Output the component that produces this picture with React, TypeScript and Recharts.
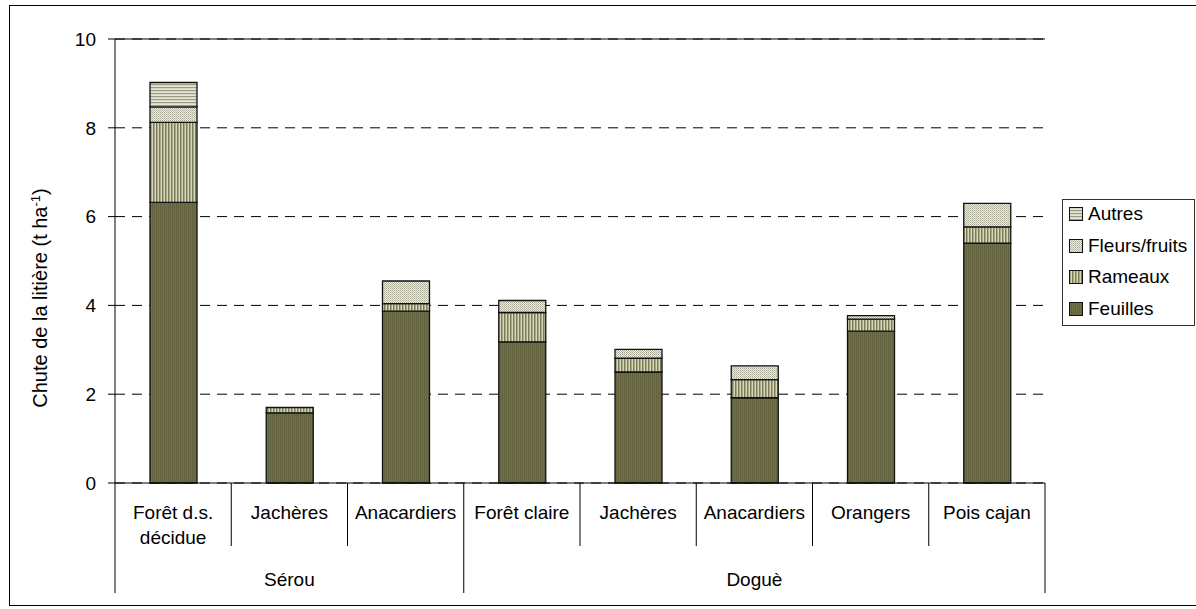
import { BarChart, Bar, XAxis, YAxis, CartesianGrid, ReferenceLine } from "recharts"

// categories (the "|" splits a label on two lines) and their site
const categories = ["Forêt d.s.|décidue", "Jachères", "Anacardiers", "Forêt claire", "Jachères", "Anacardiers", "Orangers", "Pois cajan"]
const sites = ["Sérou", "Sérou", "Sérou", "Doguè", "Doguè", "Doguè", "Doguè", "Doguè"]

// litter fall, t/ha
const feuilles = [6.32, 1.58, 3.87, 3.18, 2.5, 1.92, 3.42, 5.4]
const rameaux = [1.8, 0.12, 0.17, 0.66, 0.31, 0.41, 0.27, 0.37]
const fleursFruits = [0.35, 0, 0.51, 0.27, 0.2, 0.31, 0.08, 0.53]
const autres = [0.55, 0, 0, 0, 0, 0, 0, 0]

const yTicks = [0, 2, 4, 6, 8, 10]

const series = [
  { key: "feuilles", name: "Feuilles", fill: "url(#pFeuilles)" },
  { key: "rameaux", name: "Rameaux", fill: "url(#pRameaux)" },
  { key: "fleurs", name: "Fleurs/fruits", fill: "url(#pFleurs)" },
  { key: "autres", name: "Autres", fill: "url(#pAutres)" },
]

const data = categories.map((category, i) => ({
  category,
  site: sites[i],
  feuilles: feuilles[i],
  rameaux: rameaux[i],
  fleurs: fleursFruits[i],
  autres: autres[i],
}))

const W = 1196
const H = 609
const PLOT_LEFT = 115
const PLOT_RIGHT = 1045
const PLOT_TOP = 39
const PLOT_BOTTOM = 483
const YAXIS_W = 60
const FONT = "'Liberation Sans', Arial, sans-serif"

function CategoryTick(props: any) {
  const { x, y, index } = props
  const band = (PLOT_RIGHT - PLOT_LEFT) / categories.length
  const left = x - band / 2
  const right = x + band / 2
  const lines = categories[index].split("|")
  const firstOfSite = index === 0 || sites[index] !== sites[index - 1]
  const last = index === categories.length - 1
  const siteCount = sites.filter(s => s === sites[index]).length

  return (
    <g>
      {lines.map((l, k) => (
        <text key={k} x={x} y={y + 29 + k * 25 + 6.5} textAnchor="middle" fontSize={19} fill="#000">
          {l}
        </text>
      ))}
      <line x1={left} x2={left} y1={y} y2={y + (firstOfSite ? 110 : 63)} stroke="#000" strokeWidth={1} />
      {last && <line x1={right} x2={right} y1={y} y2={y + 110} stroke="#000" strokeWidth={1} />}
      {firstOfSite && (
        <text x={left + (siteCount * band) / 2} y={y + 96 + 6.5} textAnchor="middle" fontSize={19} fill="#000">
          {sites[index]}
        </text>
      )}
    </g>
  )
}

function Patterns() {
  return (
    <svg width={0} height={0} style={{ position: "absolute" }}>
      <defs>
        <pattern id="pFeuilles" patternUnits="userSpaceOnUse" width={2} height={2}>
          <rect width={2} height={2} fill="#707049" />
          <rect width={1} height={2} fill="#62623e" />
        </pattern>
        <pattern id="pRameaux" patternUnits="userSpaceOnUse" width={3} height={3}>
          <rect width={3} height={3} fill="#d8d8bf" />
          <rect width={1.5} height={3} fill="#7b7b54" />
        </pattern>
        <pattern id="pFleurs" patternUnits="userSpaceOnUse" width={2} height={2}>
          <rect width={2} height={2} fill="#ececE2" />
          <rect width={1} height={1} fill="#a9a997" />
          <rect x={1} y={1} width={1} height={1} fill="#bdbdad" />
        </pattern>
        <pattern id="pAutres" patternUnits="userSpaceOnUse" width={3} height={3}>
          <rect width={3} height={3} fill="#e6e6d7" />
          <rect width={3} height={1.2} fill="#9b9b82" />
        </pattern>
      </defs>
    </svg>
  )
}

export default function App() {
  const legendItems = [...series].reverse()

  return (
    <div style={{ position: "absolute", left: 0, top: 0, width: W, height: H, background: "#fff", fontFamily: FONT, overflow: "hidden" }}>
      <Patterns />

      {/* outer frame */}
      <div style={{ position: "absolute", left: 9, top: 5, width: 1200, height: 599, border: "1px solid #000" }} />

      <div style={{ position: "absolute", left: 0, top: 0 }}>
        <BarChart
          width={W}
          height={H}
          data={data}
          margin={{ top: PLOT_TOP, right: W - PLOT_RIGHT, left: PLOT_LEFT - YAXIS_W, bottom: 16 }}
        >
          <CartesianGrid vertical={false} stroke="#000" strokeDasharray="10 7" />
          <XAxis
            dataKey="category"
            height={H - PLOT_BOTTOM - 16}
            axisLine={{ stroke: "#000", strokeWidth: 1 }}
            tickLine={false}
            tickSize={0}
            tickMargin={0}
            interval={0}
            tick={<CategoryTick />}
          />
          <YAxis
            domain={[0, 10]}
            ticks={yTicks}
            width={YAXIS_W}
            axisLine={{ stroke: "#000", strokeWidth: 1 }}
            tickLine={{ stroke: "#000" }}
            tickSize={7}
            tickMargin={12}
            tick={{ fontSize: 19, fill: "#000", fontFamily: FONT }}
          />
          <YAxis yAxisId="r" orientation="right" domain={[0, 10]} width={0} tick={false} tickLine={false} axisLine={{ stroke: "#000", strokeWidth: 1 }} />
          <ReferenceLine y={10} stroke="#000" strokeWidth={1} />
          {series.map(s => (
            <Bar
              key={s.key}
              dataKey={s.key}
              name={s.name}
              stackId="a"
              fill={s.fill}
              stroke="#111"
              strokeWidth={1.3}
              barSize={47}
              isAnimationActive={false}
            />
          ))}
        </BarChart>
      </div>

      {/* y axis title */}
      <div
        style={{
          position: "absolute",
          left: 40,
          top: 298,
          transform: "translate(-50%, -50%) rotate(-90deg)",
          whiteSpace: "nowrap",
          fontSize: 20,
          color: "#000",
        }}
      >
        Chute de la litière (t ha<sup style={{ fontSize: 13 }}>-1</sup>)
      </div>

      {/* legend */}
      <div
        style={{
          position: "absolute",
          left: 1062,
          top: 199,
          width: 133,
          height: 127,
          boxSizing: "border-box",
          border: "1px solid #333",
          background: "#fff",
        }}
      >
        {legendItems.map((s, i) => (
          <div key={s.key} style={{ position: "absolute", left: 6, top: 14 + i * 31.7 - 11, height: 22, display: "flex", alignItems: "center" }}>
            <svg width={14} height={14} style={{ marginRight: 5 }}>
              <rect x={0.5} y={0.5} width={13} height={13} fill={s.fill} stroke="#111" strokeWidth={1} />
            </svg>
            <span style={{ fontSize: 19, lineHeight: "22px", color: "#000" }}>{s.name}</span>
          </div>
        ))}
      </div>
    </div>
  )
}
